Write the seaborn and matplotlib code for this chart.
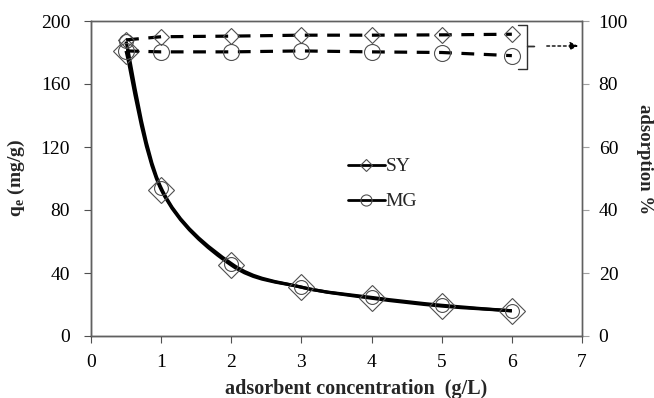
import numpy as np
import pandas as pd
import matplotlib
matplotlib.use("Agg")
import matplotlib.pyplot as plt
import seaborn as sns
from matplotlib.path import Path
from matplotlib.patches import PathPatch
from matplotlib.lines import Line2D

sns.set_theme(style="white")
plt.rcParams["font.family"] = ["Liberation Serif", "DejaVu Serif"]

# ---- data ----
conc = [0.5, 1, 2, 3, 4, 5, 6]
qe_sy = [181, 93, 45, 31, 24, 19, 16]
qe_mg = [187, 94, 46, 31, 24.5, 19.5, 16]
ads_sy = [94.0, 95.0, 95.2, 95.5, 95.5, 95.6, 95.8]
ads_mg = [90.5, 90.2, 90.2, 90.5, 90.2, 90.0, 89.0]
series = ["SY", "MG"]
x_ticks = [0, 1, 2, 3, 4, 5, 6, 7]
y_ticks = [0, 40, 80, 120, 160, 200]
y2_ticks = [0, 20, 40, 60, 80, 100]

df = pd.DataFrame({"conc": conc, "qe_SY": qe_sy, "qe_MG": qe_mg,
                   "ads_SY": ads_sy, "ads_MG": ads_mg})

fig = plt.figure(figsize=(6.54, 3.98), dpi=100)
ax = fig.add_axes([91/654, 62/398, (582-91)/654, (336-21)/398])
ax2 = ax.twinx()

edge = "#505050"


def smooth_path(xs, ys):
    pts = np.column_stack([xs, ys]).astype(float)
    verts = [pts[0]]
    codes = [Path.MOVETO]
    n = len(pts)
    for i in range(n - 1):
        p0 = pts[i - 1] if i > 0 else pts[i]
        p1 = pts[i]
        p2 = pts[i + 1]
        p3 = pts[i + 2] if i + 2 < n else pts[i + 1]
        c1 = p1 + (p2 - p0) / 6.0
        c2 = p2 - (p3 - p1) / 6.0
        verts += [c1, c2, p2]
        codes += [Path.CURVE4] * 3
    return Path(verts, codes)


# qe curves (smoothed solid lines)
for col in ["qe_SY", "qe_MG"]:
    ax.add_patch(PathPatch(smooth_path(df["conc"], df[col]), fill=False,
                           edgecolor="black", lw=2.3, zorder=3))

sns.lineplot(data=df, x="conc", y="qe_SY", ax=ax, linestyle="", marker="D",
             markersize=13, markerfacecolor="none", markeredgecolor=edge,
             markeredgewidth=0.8, zorder=4)
sns.lineplot(data=df, x="conc", y="qe_MG", ax=ax, linestyle="", marker="o",
             markersize=10, markerfacecolor="none", markeredgecolor=edge,
             markeredgewidth=0.8, zorder=4)

# adsorption % (dashed)
sns.lineplot(data=df, x="conc", y="ads_SY", ax=ax2, color="black", lw=2.3,
             linestyle=(0, (4, 3)), marker="D", markersize=8.5,
             markerfacecolor="none", markeredgecolor=edge, markeredgewidth=0.8)
sns.lineplot(data=df, x="conc", y="ads_MG", ax=ax2, color="black", lw=2.3,
             linestyle=(0, (4, 3)), marker="o", markersize=11.5,
             markerfacecolor="none", markeredgecolor=edge, markeredgewidth=0.8)

# axes setup
ax.set_xlim(0, 7)
ax.set_ylim(0, 200)
ax2.set_ylim(0, 100)
ax.set_xticks(x_ticks)
ax.set_yticks(y_ticks)
ax2.set_yticks(y2_ticks)
ax.set_xticklabels([str(t) for t in x_ticks])
ax.set_yticklabels([str(t) for t in y_ticks])
ax2.set_yticklabels([str(t) for t in y2_ticks])

for a in (ax, ax2):
    for s in a.spines.values():
        s.set_color("#606060")
        s.set_linewidth(1.0)
ax.spines["left"].set_color("#303030")
ax.spines["bottom"].set_color("#303030")

ax.tick_params(axis="x", direction="out", length=5, width=0.8,
               color="#505050", labelsize=14, labelcolor="black",
               bottom=True, pad=8)
ax.tick_params(axis="y", direction="out", length=5, width=0.8,
               color="#505050", labelsize=14, labelcolor="black",
               left=True, pad=10)
ax2.tick_params(axis="y", direction="out", length=5, width=0.8,
                color="#a0a0a0", labelsize=14, labelcolor="black", right=True,
                pad=7)

ax.set_xlabel("adsorbent concentration  (g/L)", fontsize=14.5,
              fontweight="bold")
ax.xaxis.set_label_coords((356 - 91) / 491, -(379 - 336) / 315,
                          transform=ax.transAxes)
ax.set_ylabel(r"q$_\mathregular{e}$ (mg/g)", fontsize=14, fontweight="bold")
ax.yaxis.set_label_coords(-(91 - 27) / 491, 0.5, transform=ax.transAxes)
ax2.set_ylabel("adsorption %", fontsize=13.5, fontweight="bold", rotation=270,
               va="center")
ax2.yaxis.set_label_coords((645 - 91) / 491, (336 - 159) / 315,
                           transform=ax2.transAxes)
ax.grid(False)
ax2.grid(False)

# legend
handles = [Line2D([], [], color="black", lw=2, marker="D", markersize=6,
                  markerfacecolor="none", markeredgecolor=edge, markeredgewidth=0.8),
           Line2D([], [], color="black", lw=2, marker="o", markersize=8,
                  markerfacecolor="none", markeredgecolor=edge, markeredgewidth=0.8)]
ax2.legend(handles, series, loc="upper left",
           bbox_to_anchor=((340 - 91) / 491, (336 - 150) / 315), frameon=False,
           fontsize=14, handlelength=1.9, handletextpad=0.05,
           labelspacing=0.9, borderaxespad=0)

# brace and arrow
def px2d(px, py):
    return ((px - 91) / 491 * 7, (336 - py) / 315 * 100)

bx = [px2d(518, 25), px2d(527, 25), px2d(527, 46), px2d(534, 46),
      px2d(527, 46), px2d(527, 69), px2d(518, 69)]
ax2.plot([p[0] for p in bx], [p[1] for p in bx], color="#303030", lw=1.0,
         clip_on=False)
ax2.annotate("", xy=px2d(581, 46), xytext=px2d(544, 46),
             arrowprops=dict(arrowstyle="-|>", linestyle=(0, (2, 2)),
                             color="black", lw=1.0, mutation_scale=12),
             annotation_clip=False)

fig.savefig("out.png", dpi=100)
